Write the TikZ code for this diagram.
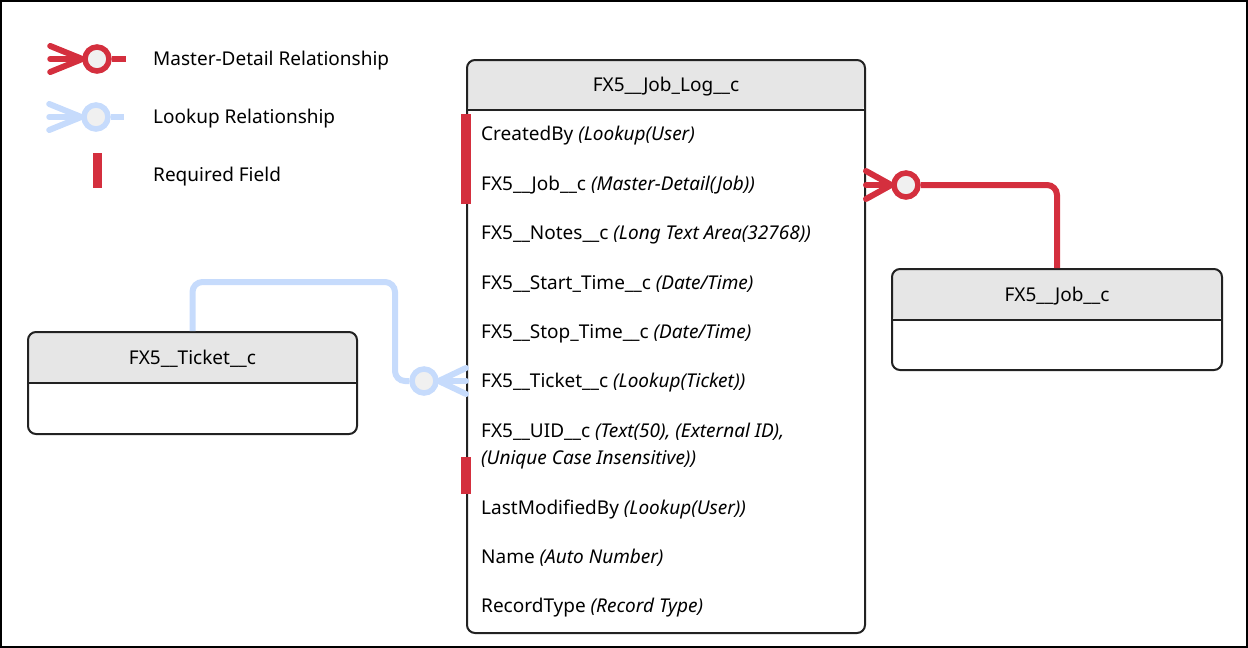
\documentclass[tikz,border=0pt]{standalone}
\usepackage{fontspec}
\setmainfont{Noto Sans}
\usepackage{tikz}
\usetikzlibrary{positioning}

\definecolor{mdred}{HTML}{D42F3E}
\definecolor{lkblue}{HTML}{C6DBFC}
\definecolor{hdrgray}{HTML}{E6E6E6}
\definecolor{dotgray}{HTML}{F0F0F0}
\definecolor{boxline}{HTML}{222222}

\tikzset{
  entity/.style={draw=boxline,line width=2pt,rounded corners=8pt,inner sep=0pt,anchor=north west},
  headfill/.style={path picture={\fill[hdrgray] (path picture bounding box.north west) rectangle ([yshift=-#1]path picture bounding box.north east);}},
  txt/.style={inner sep=0pt,anchor=base west,font=\fontsize{19}{23}\selectfont},
  headtxt/.style={inner sep=0pt,anchor=base,font=\fontsize{19}{23}\selectfont},
  mdline/.style={draw=mdred,line width=6pt,line cap=round},
  lkline/.style={draw=lkblue,line width=6pt,line cap=round},
  mdcirc/.style={circle,draw=mdred,line width=5.5pt,fill=dotgray,minimum size=24pt,inner sep=0pt},
  lkcirc/.style={circle,draw=lkblue,line width=5.5pt,fill=dotgray,minimum size=24pt,inner sep=0pt}
}

\begin{document}
\begin{tikzpicture}[x=1pt,y=-1pt]
\useasboundingbox (0,0) rectangle (1248,648);
\draw[line width=2pt] (1,1) rectangle (1247,647);

% legend
\node[mdcirc] (mdkey) at (97,59) {};
\draw[mdline] (mdkey.west) -- +(-32,-13);
\draw[mdline] (mdkey.west) -- +(-32,0);
\draw[mdline] (mdkey.west) -- +(-32,13);
\draw[mdline,line cap=butt] (mdkey.east) -- +(14,0);
\node[lkcirc] (lkkey) at (96,117) {};
\draw[lkline] (lkkey.west) -- +(-32,-13);
\draw[lkline] (lkkey.west) -- +(-32,0);
\draw[lkline] (lkkey.west) -- +(-32,13);
\draw[lkline,line cap=butt] (lkkey.east) -- +(13,0);
\fill[mdred] (93,153) rectangle (102,188);
\node[txt] (mdtxt) at (153,65) {Master-Detail Relationship};
\node[txt] (lktxt) at (153,123) {Lookup Relationship};
\node[txt] (reqtxt) at (153,181) {Required Field};

% entities
\node[entity,headfill=51pt,minimum width=398pt,minimum height=573pt] (log) at (466,59) {};
\draw[draw=boxline,line width=2pt] ([yshift=-51pt]log.north west) -- ([yshift=-51pt]log.north east);
\node[headtxt] (loghead) at ([yshift=-32pt]log.north) {FX5\_\_Job\_Log\_\_c};

\node[entity,headfill=52pt,minimum width=330pt,minimum height=101pt] (job) at (891,268) {};
\draw[draw=boxline,line width=2pt] ([yshift=-52pt]job.north west) -- ([yshift=-52pt]job.north east);
\node[headtxt] (jobhead) at ([yshift=-33pt]job.north) {FX5\_\_Job\_\_c};

\node[entity,headfill=52pt,minimum width=329pt,minimum height=102pt] (ticket) at (27,331) {};
\draw[draw=boxline,line width=2pt] ([yshift=-52pt]ticket.north west) -- ([yshift=-52pt]ticket.north east);
\node[headtxt] (tickethead) at ([yshift=-33pt]ticket.north) {FX5\_\_Ticket\_\_c};

% required fields
\fill[mdred] (461,114) rectangle (471,204);
\fill[mdred] (461,457) rectangle (471,494);

% fields
\node[txt] (fcreated) at (481,140) {CreatedBy \textit{(Lookup(User)}};
\node[txt] (fjob) at (481,190) {FX5\_\_Job\_\_c \textit{(Master-Detail(Job))}};
\node[txt] (fnotes) at (481,239) {FX5\_\_Notes\_\_c \textit{(Long Text Area(32768))}};
\node[txt] (fstart) at (481,289) {FX5\_\_Start\_Time\_\_c \textit{(Date/Time)}};
\node[txt] (fstop) at (481,338) {FX5\_\_Stop\_Time\_\_c \textit{(Date/Time)}};
\node[txt] (fticket) at (481,387) {FX5\_\_Ticket\_\_c \textit{(Lookup(Ticket))}};
\node[txt] (fuid) at (481,437) {FX5\_\_UID\_\_c \textit{(Text(50), (External ID),}};
\node[txt] (fuidb) at (481,464) {\textit{(Unique Case Insensitive))}};
\node[txt] (fmod) at (481,514) {LastModifiedBy \textit{(Lookup(User))}};
\node[txt] (fname) at (481,563) {Name \textit{(Auto Number)}};
\node[txt] (ftype) at (481,612) {RecordType \textit{(Record Type)}};

% master-detail: Job -> Job_Log
\coordinate (jobend) at (log.east |- 0,185);
\node[mdcirc] (mdc) at (906,185) {};
\draw[mdline,line cap=butt,rounded corners=10pt] (job.north) |- (mdc);
\draw[mdline] (mdc.west) -- ([yshift=14pt]jobend);
\draw[mdline] (mdc.west) -- (jobend);
\draw[mdline] (mdc.west) -- ([yshift=-14pt]jobend);

% lookup: Ticket -> Job_Log
\coordinate (lkend) at (log.west |- 0,381);
\coordinate (lkbend) at (395,282);
\node[lkcirc] (lkc) at (424,381) {};
\draw[lkline,line cap=butt,rounded corners=10pt] (ticket.north) |- (lkbend) |- (lkc);
\draw[lkline] (lkc.east) -- ([yshift=13pt]lkend);
\draw[lkline] (lkc.east) -- (lkend);
\draw[lkline] (lkc.east) -- ([yshift=-13pt]lkend);
\end{tikzpicture}
\end{document}
